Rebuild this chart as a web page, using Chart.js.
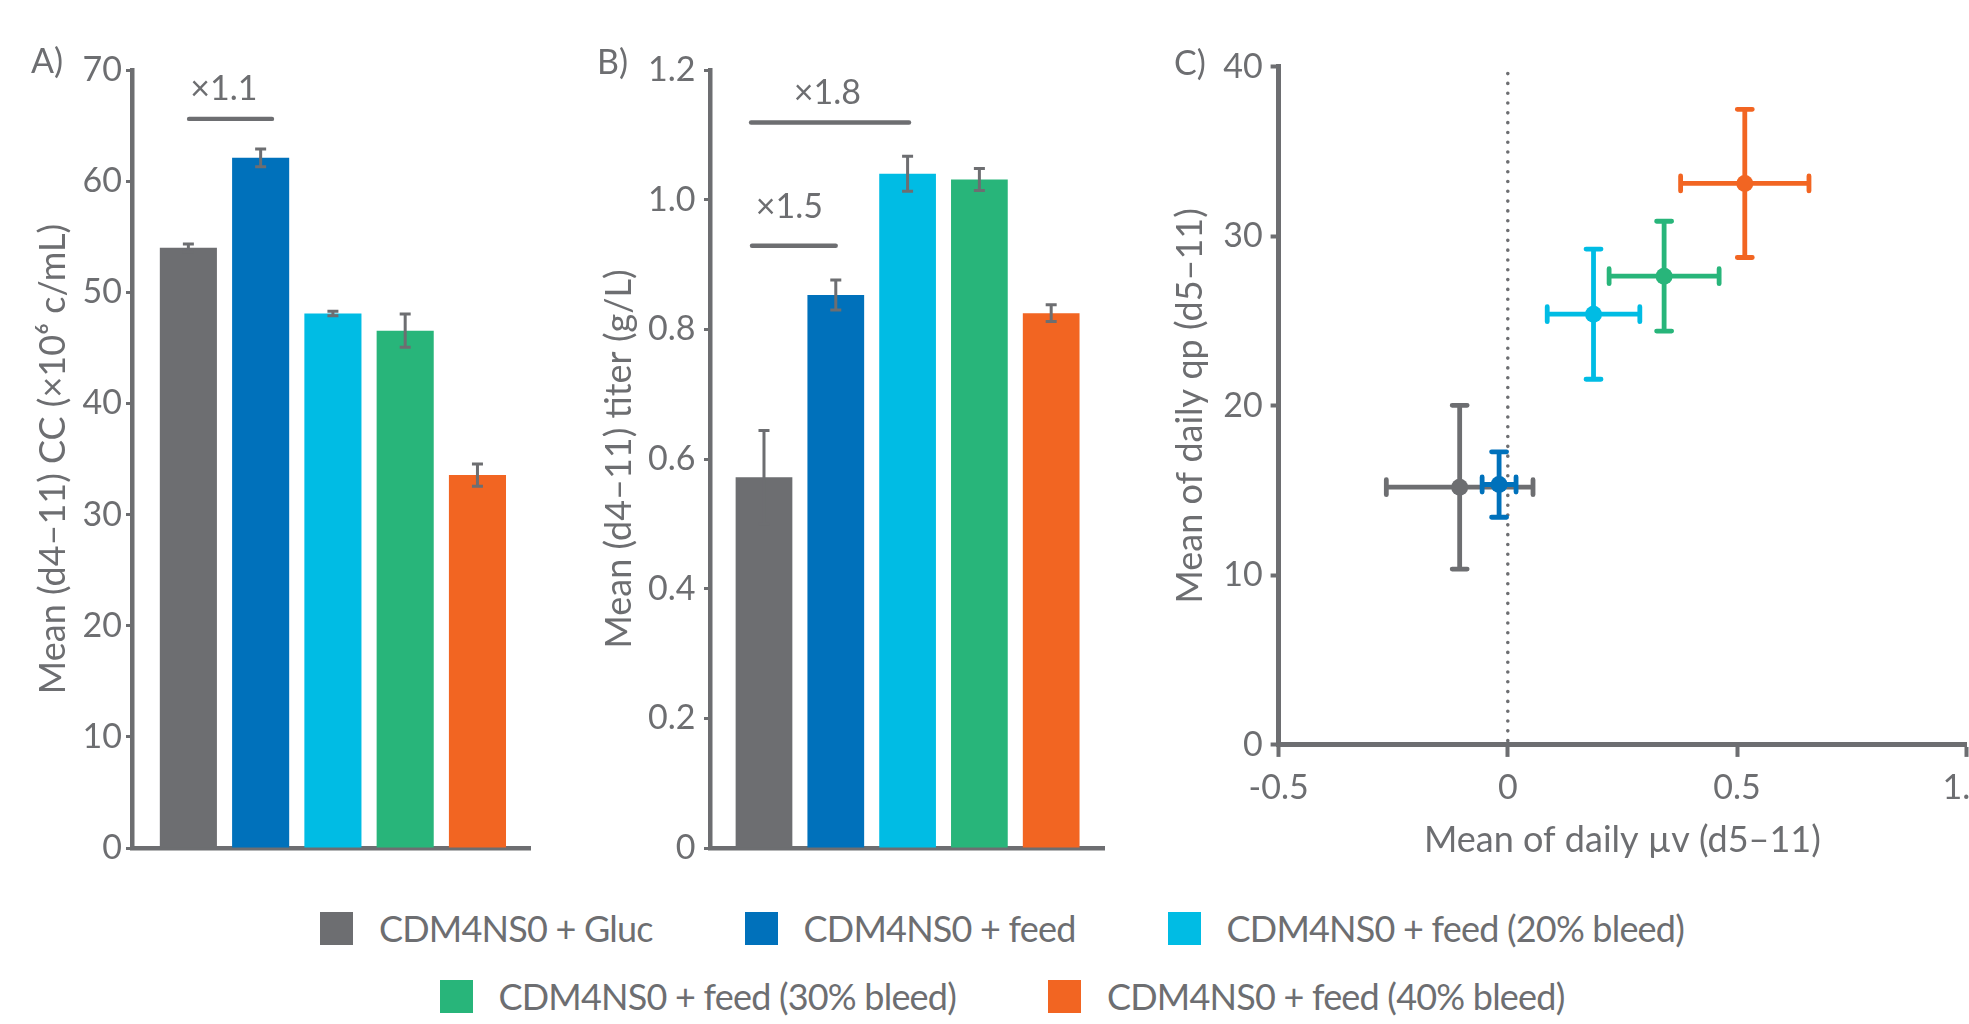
<!DOCTYPE html>
<html><head><meta charset="utf-8">
<script src="https://cdn.jsdelivr.net/npm/chart.js@4.4.1/dist/chart.umd.min.js"></script>
<style>
html,body{margin:0;padding:0;background:#fff;overflow:hidden;width:1969px;height:1024px;position:relative;}
canvas{position:absolute;top:0;}
.row{position:absolute;left:0;width:2004px;display:flex;justify-content:center;font-family:Lato,sans-serif;color:#6d6e71;font-size:36px;letter-spacing:-0.8px;height:44px;line-height:44px;}
.item{display:flex;align-items:center;margin:0 46px;white-space:nowrap;}
.sw{width:33px;height:33px;margin-right:26px;flex:none;}
</style>
</head><body>
<canvas id="cA" width="560" height="880" style="left:0px"></canvas>
<canvas id="cB" width="560" height="880" style="left:560px"></canvas>
<canvas id="cC" width="890" height="880" style="left:1120px"></canvas>
<div class="row" id="row1" style="top:906px"></div>
<div class="row" id="row2" style="top:974px"></div>
<script>
// ---------- data ----------
const categories = ['CDM4NS0 + Gluc','CDM4NS0 + feed','CDM4NS0 + feed (20% bleed)','CDM4NS0 + feed (30% bleed)','CDM4NS0 + feed (40% bleed)'];
const colors = ['#6d6e71','#0071bb','#00bce4','#28b57a','#f26522'];
const ccMean = [54.0, 62.1, 48.1, 46.55, 33.55];
const ccErr = [0.35, 0.8, 0.2, 1.5, 1.0];
const titerMean = [0.572, 0.853, 1.040, 1.031, 0.825];
const titerErr = [0.072, 0.023, 0.027, 0.017, 0.013];
const muMean = [-0.105, -0.019, 0.187, 0.341, 0.517];
const muErr = [0.16, 0.037, 0.101, 0.12, 0.14];
const qpMean = [15.2, 15.36, 25.41, 27.65, 33.12];
const qpErr = [4.83, 1.93, 3.84, 3.24, 4.37];
const barPositions = [0, 1, 2, 3, 4];
const ticksA = [0,10,20,30,40,50,60,70];
const ticksB = [0,0.2,0.4,0.6,0.8,1.0,1.2];
const ticksBLabels = ['0','0.2','0.4','0.6','0.8','1.0','1.2'];
const ticksCx = [-0.5,0,0.5,1.0];
const ticksCxLabels = ['-0.5','0','0.5','1.0'];
const ticksCy = [0,10,20,30,40];
const bracketsA = [{text:'×1.1', from:0.01, to:1.157, y:65.6, tx:0.49, ty:68.3}];
const bracketsB = [{text:'×1.8', from:-0.18, to:2.02, y:1.119, tx:0.884, ty:1.164},
                   {text:'×1.5', from:-0.167, to:0.999, y:0.929, tx:0.354, ty:0.989}];
const titleA = 'Mean (d4–11) CC (×10⁶ c/mL)';
const titleB = 'Mean (d4–11) titer (g/L)';
const titleCx = 'Mean of daily µv (d5–11)';
const titleCy = 'Mean of daily qp (d5–11)';

// ---------- style ----------
const GRAY = '#6d6e71';
const FONT = 'Lato, sans-serif';
Chart.defaults.font.family = FONT;
Chart.defaults.color = GRAY;

function barChart(id, means, errs, brackets, yMax, ticks, tickLabels, title, panel, cfg) {
  const plugin = {
    id: 'extras_' + id,
    afterDatasetsDraw(chart) {
      const {ctx, scales: {x, y}} = chart;
      ctx.save();
      ctx.strokeStyle = GRAY; ctx.lineWidth = 3; ctx.lineCap = 'butt';
      means.forEach((m, i) => {
        const px = x.getPixelForValue(barPositions[i]);
        const yt = y.getPixelForValue(m + errs[i]);
        const yb = y.getPixelForValue(m - errs[i]);
        ctx.beginPath();
        ctx.moveTo(px, yt); ctx.lineTo(px, yb);
        ctx.moveTo(px - 5.5, yt); ctx.lineTo(px + 5.5, yt);
        ctx.moveTo(px - 5.5, yb); ctx.lineTo(px + 5.5, yb);
        ctx.stroke();
      });
      ctx.lineWidth = 4.4; ctx.lineCap = 'round';
      ctx.fillStyle = GRAY; ctx.textAlign = 'center'; ctx.textBaseline = 'middle';
      ctx.font = '34px ' + FONT;
      brackets.forEach(b => {
        const yy = y.getPixelForValue(b.y);
        ctx.beginPath();
        ctx.moveTo(x.getPixelForValue(b.from), yy);
        ctx.lineTo(x.getPixelForValue(b.to), yy);
        ctx.stroke();
        ctx.fillText(b.text, x.getPixelForValue(b.tx), y.getPixelForValue(b.ty));
      });
      ctx.textAlign = 'left';
      ctx.fillText(panel, cfg.panelX, cfg.panelY);
      ctx.restore();
    }
  };
  return new Chart(document.getElementById(id), {
    type: 'bar',
    data: {
      labels: categories,
      datasets: [{
        data: means.map((v, i) => ({x: barPositions[i], y: v})),
        backgroundColor: colors,
        borderWidth: 0,
        categoryPercentage: 1,
        barPercentage: 0.79
      }]
    },
    options: {
      responsive: false, animation: false, devicePixelRatio: 1,
      events: [],
      layout: {padding: {top: 70, left: 0, right: cfg.padRight, bottom: 0}},
      plugins: {legend: {display: false}, tooltip: {enabled: false}},
      scales: {
        x: {
          type: 'linear', min: cfg.xMin, max: cfg.xMax, offset: false, bounds: 'data',
          afterBuildTicks: s => { s.ticks = barPositions.map(v => ({value: v})); },
          ticks: {display: false},
          grid: {display: false, offset: false},
          border: {display: true, color: GRAY, width: 4.5},
          afterFit: s => { s.height = 32; }
        },
        y: {
          type: 'linear', min: 0, max: yMax,
          afterBuildTicks: s => { s.ticks = ticks.map(v => ({value: v})); },
          ticks: {font: {size: 34}, color: GRAY, padding: cfg.tickPad,
                  callback: (v, i) => tickLabels[i]},
          grid: {display: true, drawOnChartArea: false, drawTicks: true, tickLength: 6, tickWidth: 3, tickColor: GRAY},
          border: {display: true, color: GRAY, width: 4.5},
          title: {display: true, text: title, font: {size: 36}, color: GRAY, padding: {top: cfg.titlePad, bottom: 0}},
          afterFit: s => { s.width = cfg.yWidth; }
        }
      }
    },
    plugins: [plugin]
  });
}

barChart('cA', ccMean, ccErr, bracketsA, 70, ticksA, ticksA.map(String), titleA, 'A)',
  {xMin: -0.78, xMax: 4.727, padRight: 30, yWidth: 132, tickPad: 4, titlePad: 32, panelX: 31, panelY: 62});
barChart('cB', titerMean, titerErr, bracketsB, 1.2, ticksB, ticksBLabels, titleB, 'B)',
  {xMin: -0.752, xMax: 4.744, padRight: 15.4, yWidth: 150, tickPad: 8.5, titlePad: 37.4, panelX: 37, panelY: 63});

// ---------- scatter ----------
const scatterPlugin = {
  id: 'scatterExtras',
  beforeDatasetsDraw(chart) {
    const {ctx, scales: {x, y}} = chart;
    ctx.save();
    ctx.strokeStyle = GRAY; ctx.lineWidth = 3.6; ctx.lineCap = 'round';
    ctx.setLineDash([0.01, 9.8]);
    const px = x.getPixelForValue(0);
    ctx.beginPath();
    ctx.moveTo(px, y.getPixelForValue(39.6));
    ctx.lineTo(px, y.getPixelForValue(0) - 4);
    ctx.stroke();
    ctx.restore();
    ctx.save();
    ctx.fillStyle = GRAY; ctx.font = '34px ' + FONT; ctx.textBaseline = 'middle';
    ctx.fillText('C)', 54, 64);
    ctx.restore();
  },
  beforeDatasetDraw(chart, args) {
    const i = args.index;
    const {ctx, scales: {x, y}} = chart;
    const cx = x.getPixelForValue(muMean[i]);
    const cy = y.getPixelForValue(qpMean[i]);
    const x0 = x.getPixelForValue(muMean[i] - muErr[i]);
    const x1 = x.getPixelForValue(muMean[i] + muErr[i]);
    const y0 = y.getPixelForValue(qpMean[i] - qpErr[i]);
    const y1 = y.getPixelForValue(qpMean[i] + qpErr[i]);
    ctx.save();
    ctx.strokeStyle = colors[i]; ctx.lineWidth = 4.8; ctx.lineCap = 'round';
    const cap = 7.5;
    ctx.beginPath();
    ctx.moveTo(x0, cy); ctx.lineTo(x1, cy);
    ctx.moveTo(cx, y0); ctx.lineTo(cx, y1);
    ctx.moveTo(x0, cy - cap); ctx.lineTo(x0, cy + cap);
    ctx.moveTo(x1, cy - cap); ctx.lineTo(x1, cy + cap);
    ctx.moveTo(cx - cap, y0); ctx.lineTo(cx + cap, y0);
    ctx.moveTo(cx - cap, y1); ctx.lineTo(cx + cap, y1);
    ctx.stroke();
    ctx.restore();
  }
};

new Chart(document.getElementById('cC'), {
  type: 'scatter',
  data: {
    datasets: categories.map((c, i) => ({
      label: c,
      data: [{x: muMean[i], y: qpMean[i]}],
      backgroundColor: colors[i], borderColor: colors[i], borderWidth: 0,
      pointRadius: 8.5, pointHoverRadius: 8.5,
      order: i === 0 ? 1 : 0
    }))
  },
  options: {
    responsive: false, animation: false, devicePixelRatio: 1,
    events: [],
    layout: {padding: {top: 66.8, left: 0, right: 43.8, bottom: 0}},
    plugins: {legend: {display: false}, tooltip: {enabled: false}},
    scales: {
      x: {
        type: 'linear', min: -0.5, max: 1.0,
        afterBuildTicks: s => { s.ticks = ticksCx.map(v => ({value: v})); },
        ticks: {font: {size: 34}, color: GRAY, padding: 11, maxRotation: 0,
                callback: (v, i) => ticksCxLabels[i]},
        grid: {display: true, drawOnChartArea: false, drawTicks: true, tickLength: 12, tickWidth: 4, tickColor: GRAY},
        border: {display: true, color: GRAY, width: 5},
        title: {display: true, text: titleCx, font: {size: 36}, color: GRAY, padding: {top: 0, bottom: 17.7}},
        afterFit: s => { s.height = 135.1; }
      },
      y: {
        type: 'linear', min: 0, max: 40,
        afterBuildTicks: s => { s.ticks = ticksCy.map(v => ({value: v})); },
        ticks: {font: {size: 34}, color: GRAY, padding: 8, callback: (v, i) => String(ticksCy[i])},
        grid: {display: true, drawOnChartArea: false, drawTicks: true, tickLength: 8, tickWidth: 4, tickColor: GRAY},
        border: {display: true, color: GRAY, width: 5},
        title: {display: true, text: titleCy, font: {size: 36}, color: GRAY, padding: {top: 48.4, bottom: 0}},
        afterFit: s => { s.width = 158.6; }
      }
    }
  },
  plugins: [scatterPlugin]
});

// ---------- legend ----------
function legendItem(i) {
  const d = document.createElement('div'); d.className = 'item';
  const sw = document.createElement('div'); sw.className = 'sw'; sw.style.background = colors[i];
  const t = document.createElement('span'); t.textContent = categories[i];
  d.appendChild(sw); d.appendChild(t); return d;
}
const r1 = document.getElementById('row1'), r2 = document.getElementById('row2');
[0,1,2].forEach(i => r1.appendChild(legendItem(i)));
[3,4].forEach(i => r2.appendChild(legendItem(i)));
</script>
</body></html>
